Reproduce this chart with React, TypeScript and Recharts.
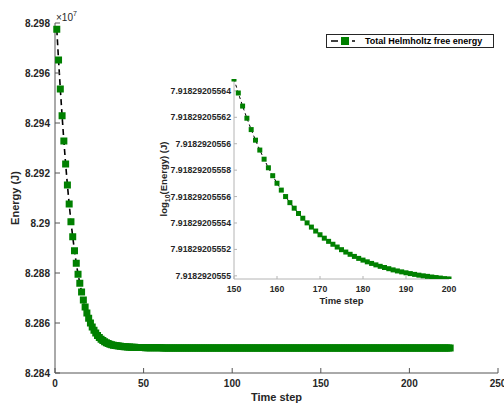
import React from "react";
import { LineChart, Line, XAxis, YAxis, Legend, Label } from "recharts";

const FONT = '"Liberation Sans", Arial, Helvetica, sans-serif';
const GREEN = "#008000";

// main plot: total Helmholtz free energy (units of 1e7 J), one value per time step starting at 1
const energy = [
  8.29775, 8.29652, 8.29536, 8.29429, 8.29328, 8.29236, 8.29152, 8.29076, 8.29005, 8.28945,
  8.28889, 8.28839, 8.28795, 8.28759, 8.28724, 8.28692, 8.28664, 8.2864, 8.28619, 8.286,
  8.28584, 8.28571, 8.2856, 8.2855, 8.28542, 8.28535, 8.2853, 8.28525, 8.28521, 8.28518,
  8.28515, 8.28513, 8.28511, 8.2851, 8.28509, 8.28508, 8.28507, 8.28506, 8.28505, 8.28505,
  8.28504, 8.28504, 8.28503, 8.28503, 8.28503, 8.28502, 8.28502, 8.28502, 8.28502, 8.28502,
  8.28501, 8.28501, 8.28501, 8.28501, 8.28501, 8.28501, 8.28501, 8.28501, 8.28501, 8.28501,
  8.285, 8.285, 8.285, 8.285, 8.285, 8.285, 8.285, 8.285, 8.285, 8.285,
  8.285, 8.285, 8.285, 8.285, 8.285, 8.285, 8.285, 8.285, 8.285, 8.285,
  8.285, 8.285, 8.285, 8.285, 8.285, 8.285, 8.285, 8.285, 8.285, 8.285,
  8.285, 8.285, 8.285, 8.285, 8.285, 8.285, 8.285, 8.285, 8.285, 8.285,
  8.285, 8.285, 8.285, 8.285, 8.285, 8.285, 8.285, 8.285, 8.285, 8.285,
  8.285, 8.285, 8.285, 8.285, 8.285, 8.285, 8.285, 8.285, 8.285, 8.285,
  8.285, 8.285, 8.285, 8.285, 8.285, 8.285, 8.285, 8.285, 8.285, 8.285,
  8.285, 8.285, 8.285, 8.285, 8.285, 8.285, 8.285, 8.285, 8.285, 8.285,
  8.285, 8.285, 8.285, 8.285, 8.285, 8.285, 8.285, 8.285, 8.285, 8.285,
  8.285, 8.285, 8.285, 8.285, 8.285, 8.285, 8.285, 8.285, 8.285, 8.285,
  8.285, 8.285, 8.285, 8.285, 8.285, 8.285, 8.285, 8.285, 8.285, 8.285,
  8.285, 8.285, 8.285, 8.285, 8.285, 8.285, 8.285, 8.285, 8.285, 8.285,
  8.285, 8.285, 8.285, 8.285, 8.285, 8.285, 8.285, 8.285, 8.285, 8.285,
  8.285, 8.285, 8.285, 8.285, 8.285, 8.285, 8.285, 8.285, 8.285, 8.285,
  8.285, 8.285, 8.285, 8.285, 8.285, 8.285, 8.285, 8.285, 8.285, 8.285,
  8.285, 8.285, 8.285, 8.285, 8.285, 8.285, 8.285, 8.285, 8.285, 8.285,
  8.285, 8.285, 8.285,
];
const mainXTicks = [0, 50, 100, 150, 200, 250];
const mainYTicks = [8.284, 8.286, 8.288, 8.29, 8.292, 8.294, 8.296, 8.298];

// inset: log10(energy) for time steps 150..200
const insetFirstStep = 150;
const logEnergy = [
  7.918292055649, 7.9182920556384, 7.9182920556285, 7.9182920556193, 7.9182920556107,
  7.9182920556027, 7.9182920555952, 7.9182920555883, 7.9182920555818, 7.9182920555758,
  7.9182920555701, 7.9182920555649, 7.91829205556, 7.9182920555554, 7.9182920555512,
  7.9182920555472, 7.9182920555436, 7.9182920555401, 7.9182920555369, 7.9182920555339,
  7.9182920555311, 7.9182920555285, 7.9182920555261, 7.9182920555239, 7.9182920555218,
  7.9182920555198, 7.918292055518, 7.9182920555163, 7.9182920555147, 7.9182920555132,
  7.9182920555119, 7.9182920555106, 7.9182920555094, 7.9182920555083, 7.9182920555072,
  7.9182920555063, 7.9182920555054, 7.9182920555045, 7.9182920555037, 7.918292055503,
  7.9182920555023, 7.9182920555017, 7.9182920555011, 7.9182920555005, 7.9182920555,
  7.9182920554996, 7.9182920554991, 7.9182920554987, 7.9182920554983, 7.9182920554979,
  7.9182920554976,
];
const insetXTicks = [150, 160, 170, 180, 190, 200];
const insetYTicks = [
  7.9182920555, 7.91829205552, 7.91829205554, 7.91829205556,
  7.91829205558, 7.9182920556, 7.91829205562, 7.91829205564,
];

const seriesName = "Total Helmholtz free energy";

const mainData = energy.map((e, i) => ({ step: i + 1, energy: e }));
const insetData = logEnergy.map((v, i) => ({ step: insetFirstStep + i, logE: v }));
const insetDomain = [Math.min(...logEnergy), Math.max(...logEnergy)];

const fmtMainY = (v: number) => String(Number(v.toFixed(3)));
const fmtInsetY = (v: number) => String(Number(v.toFixed(11)));
const blank = () => "";

const square = (size: number) => (p: any) => {
  const { cx, cy, index } = p;
  if (cx == null || cy == null) return <g key={`e${index}`} />;
  return <rect key={`s${index}`} x={cx - size / 2} y={cy - size / 2} width={size} height={size} fill={GREEN} />;
};

const mainTick = { fill: "#262626", fontSize: 10, fontWeight: "bold", fontFamily: FONT };
const insetTick = { fill: "#262626", fontSize: 8.7, fontWeight: "bold", fontFamily: FONT };

const LegendBox = () => (
  <div
    style={{
      width: 166,
      height: 12,
      border: "1px solid #262626",
      background: "#fff",
      display: "flex",
      alignItems: "center",
      fontFamily: FONT,
      fontSize: 9,
      fontWeight: "bold",
      color: "#000",
      whiteSpace: "nowrap",
    }}
  >
    <svg width={38} height={12} style={{ display: "block" }}>
      <line x1={4} y1={6} x2={11} y2={6} stroke="#000" strokeWidth={1.5} />
      <rect x={14} y={2} width={8} height={8} fill={GREEN} />
      <line x1={25} y1={6} x2={28} y2={6} stroke="#000" strokeWidth={1.5} />
    </svg>
    <span>{seriesName}</span>
  </div>
);

export default function App() {
  return (
    <div style={{ position: "absolute", left: 0, top: 0, width: 504, height: 404, background: "#fff" }}>
      <LineChart width={504} height={404} data={mainData} margin={{ top: 23, right: 6, bottom: 0, left: 0 }}>
        <XAxis
          dataKey="step"
          type="number"
          domain={[0, 250]}
          ticks={mainXTicks}
          interval={0}
          height={31}
          stroke="#555"
          tickSize={-5}
          tickMargin={12}
          tick={mainTick}
        >
          <Label
            content={(p: any) => (
              <text
                x={p.viewBox.x + p.viewBox.width / 2}
                y={p.viewBox.y + 28}
                textAnchor="middle"
                fontFamily={FONT}
                fontSize={11}
                fontWeight="bold"
                fill="#262626"
              >
                Time step
              </text>
            )}
          />
        </XAxis>
        <XAxis
          xAxisId="top"
          orientation="top"
          dataKey="step"
          type="number"
          domain={[0, 250]}
          ticks={mainXTicks}
          interval={0}
          height={0}
          stroke="#555"
          tickSize={-5}
          tickFormatter={blank}
        />
        <YAxis
          type="number"
          domain={[8.284, 8.298]}
          ticks={mainYTicks}
          interval={0}
          width={55}
          stroke="#555"
          tickSize={-5}
          tickMargin={10}
          tick={mainTick}
          tickFormatter={fmtMainY}
        >
          <Label
            content={(p: any) => {
              const vb = p.viewBox;
              const cx = vb.x + 19;
              const cy = vb.y + vb.height / 2;
              return (
                <g>
                  <text
                    x={cx}
                    y={cy}
                    transform={`rotate(-90, ${cx}, ${cy})`}
                    textAnchor="middle"
                    fontFamily={FONT}
                    fontSize={11}
                    fontWeight="bold"
                    fill="#262626"
                  >
                    Energy (J)
                  </text>
                  <text x={vb.x + vb.width + 1} y={vb.y - 2} fontFamily={FONT} fontSize={10} fill="#262626">
                    ×10
                    <tspan dy={-5} fontSize={7}>
                      7
                    </tspan>
                  </text>
                </g>
              );
            }}
          />
        </YAxis>
        <YAxis
          yAxisId="right"
          orientation="right"
          type="number"
          domain={[8.284, 8.298]}
          ticks={mainYTicks}
          interval={0}
          width={0}
          stroke="#555"
          tickSize={-5}
          tickFormatter={blank}
        />
        <Legend
          layout="vertical"
          align="center"
          verticalAlign="middle"
          content={<LegendBox />}
          wrapperStyle={{ position: "absolute", left: 326, top: 34, width: "auto", height: "auto" }}
        />
        <Line
          dataKey="energy"
          name={seriesName}
          stroke="#000"
          strokeWidth={1.6}
          strokeDasharray="6 4"
          dot={square(7)}
          activeDot={false}
          isAnimationActive={false}
        />
      </LineChart>

      <div style={{ position: "absolute", left: 150, top: 60 }}>
        <LineChart width={310} height={250} data={insetData} margin={{ top: 19, right: 11, bottom: 0, left: 0 }}>
          <XAxis
            dataKey="step"
            type="number"
            domain={[150, 200]}
            ticks={insetXTicks}
            interval={0}
            height={31}
            stroke="#b4b4b4"
            tickSize={-3}
            tickMargin={9.5}
            tick={insetTick}
          >
            <Label
              content={(p: any) => (
                <text
                  x={p.viewBox.x + p.viewBox.width / 2}
                  y={p.viewBox.y + 25}
                  textAnchor="middle"
                  fontFamily={FONT}
                  fontSize={9.5}
                  fontWeight="bold"
                  fill="#262626"
                >
                  Time step
                </text>
              )}
            />
          </XAxis>
          <XAxis
            xAxisId="top"
            orientation="top"
            dataKey="step"
            type="number"
            domain={[150, 200]}
            ticks={insetXTicks}
            interval={0}
            height={0}
            stroke="#b4b4b4"
            tickSize={-3}
            tickFormatter={blank}
          />
          <YAxis
            type="number"
            domain={insetDomain}
            allowDataOverflow
            ticks={insetYTicks}
            interval={0}
            width={84}
            stroke="#b4b4b4"
            tickSize={-3}
            tickMargin={6}
            tick={insetTick}
            tickFormatter={fmtInsetY}
          >
            <Label
              content={(p: any) => {
                const vb = p.viewBox;
                const cx = vb.x + 17;
                const cy = vb.y + vb.height / 2;
                return (
                  <text
                    x={cx}
                    y={cy}
                    transform={`rotate(-90, ${cx}, ${cy})`}
                    textAnchor="middle"
                    fontFamily={FONT}
                    fontSize={9.5}
                    fontWeight="bold"
                    fill="#262626"
                  >
                    log
                    <tspan dy={3} fontSize={7}>
                      10
                    </tspan>
                    <tspan dy={-3}>(Energy) (J)</tspan>
                  </text>
                );
              }}
            />
          </YAxis>
          <YAxis
            yAxisId="right"
            orientation="right"
            type="number"
            domain={insetDomain}
            allowDataOverflow
            ticks={insetYTicks}
            interval={0}
            width={0}
            stroke="#b4b4b4"
            tickSize={-3}
            tickFormatter={blank}
          />
          <Line
            dataKey="logE"
            stroke="#000"
            strokeWidth={1}
            strokeDasharray="3 3"
            dot={square(5)}
            activeDot={false}
            isAnimationActive={false}
          />
        </LineChart>
      </div>
    </div>
  );
}
